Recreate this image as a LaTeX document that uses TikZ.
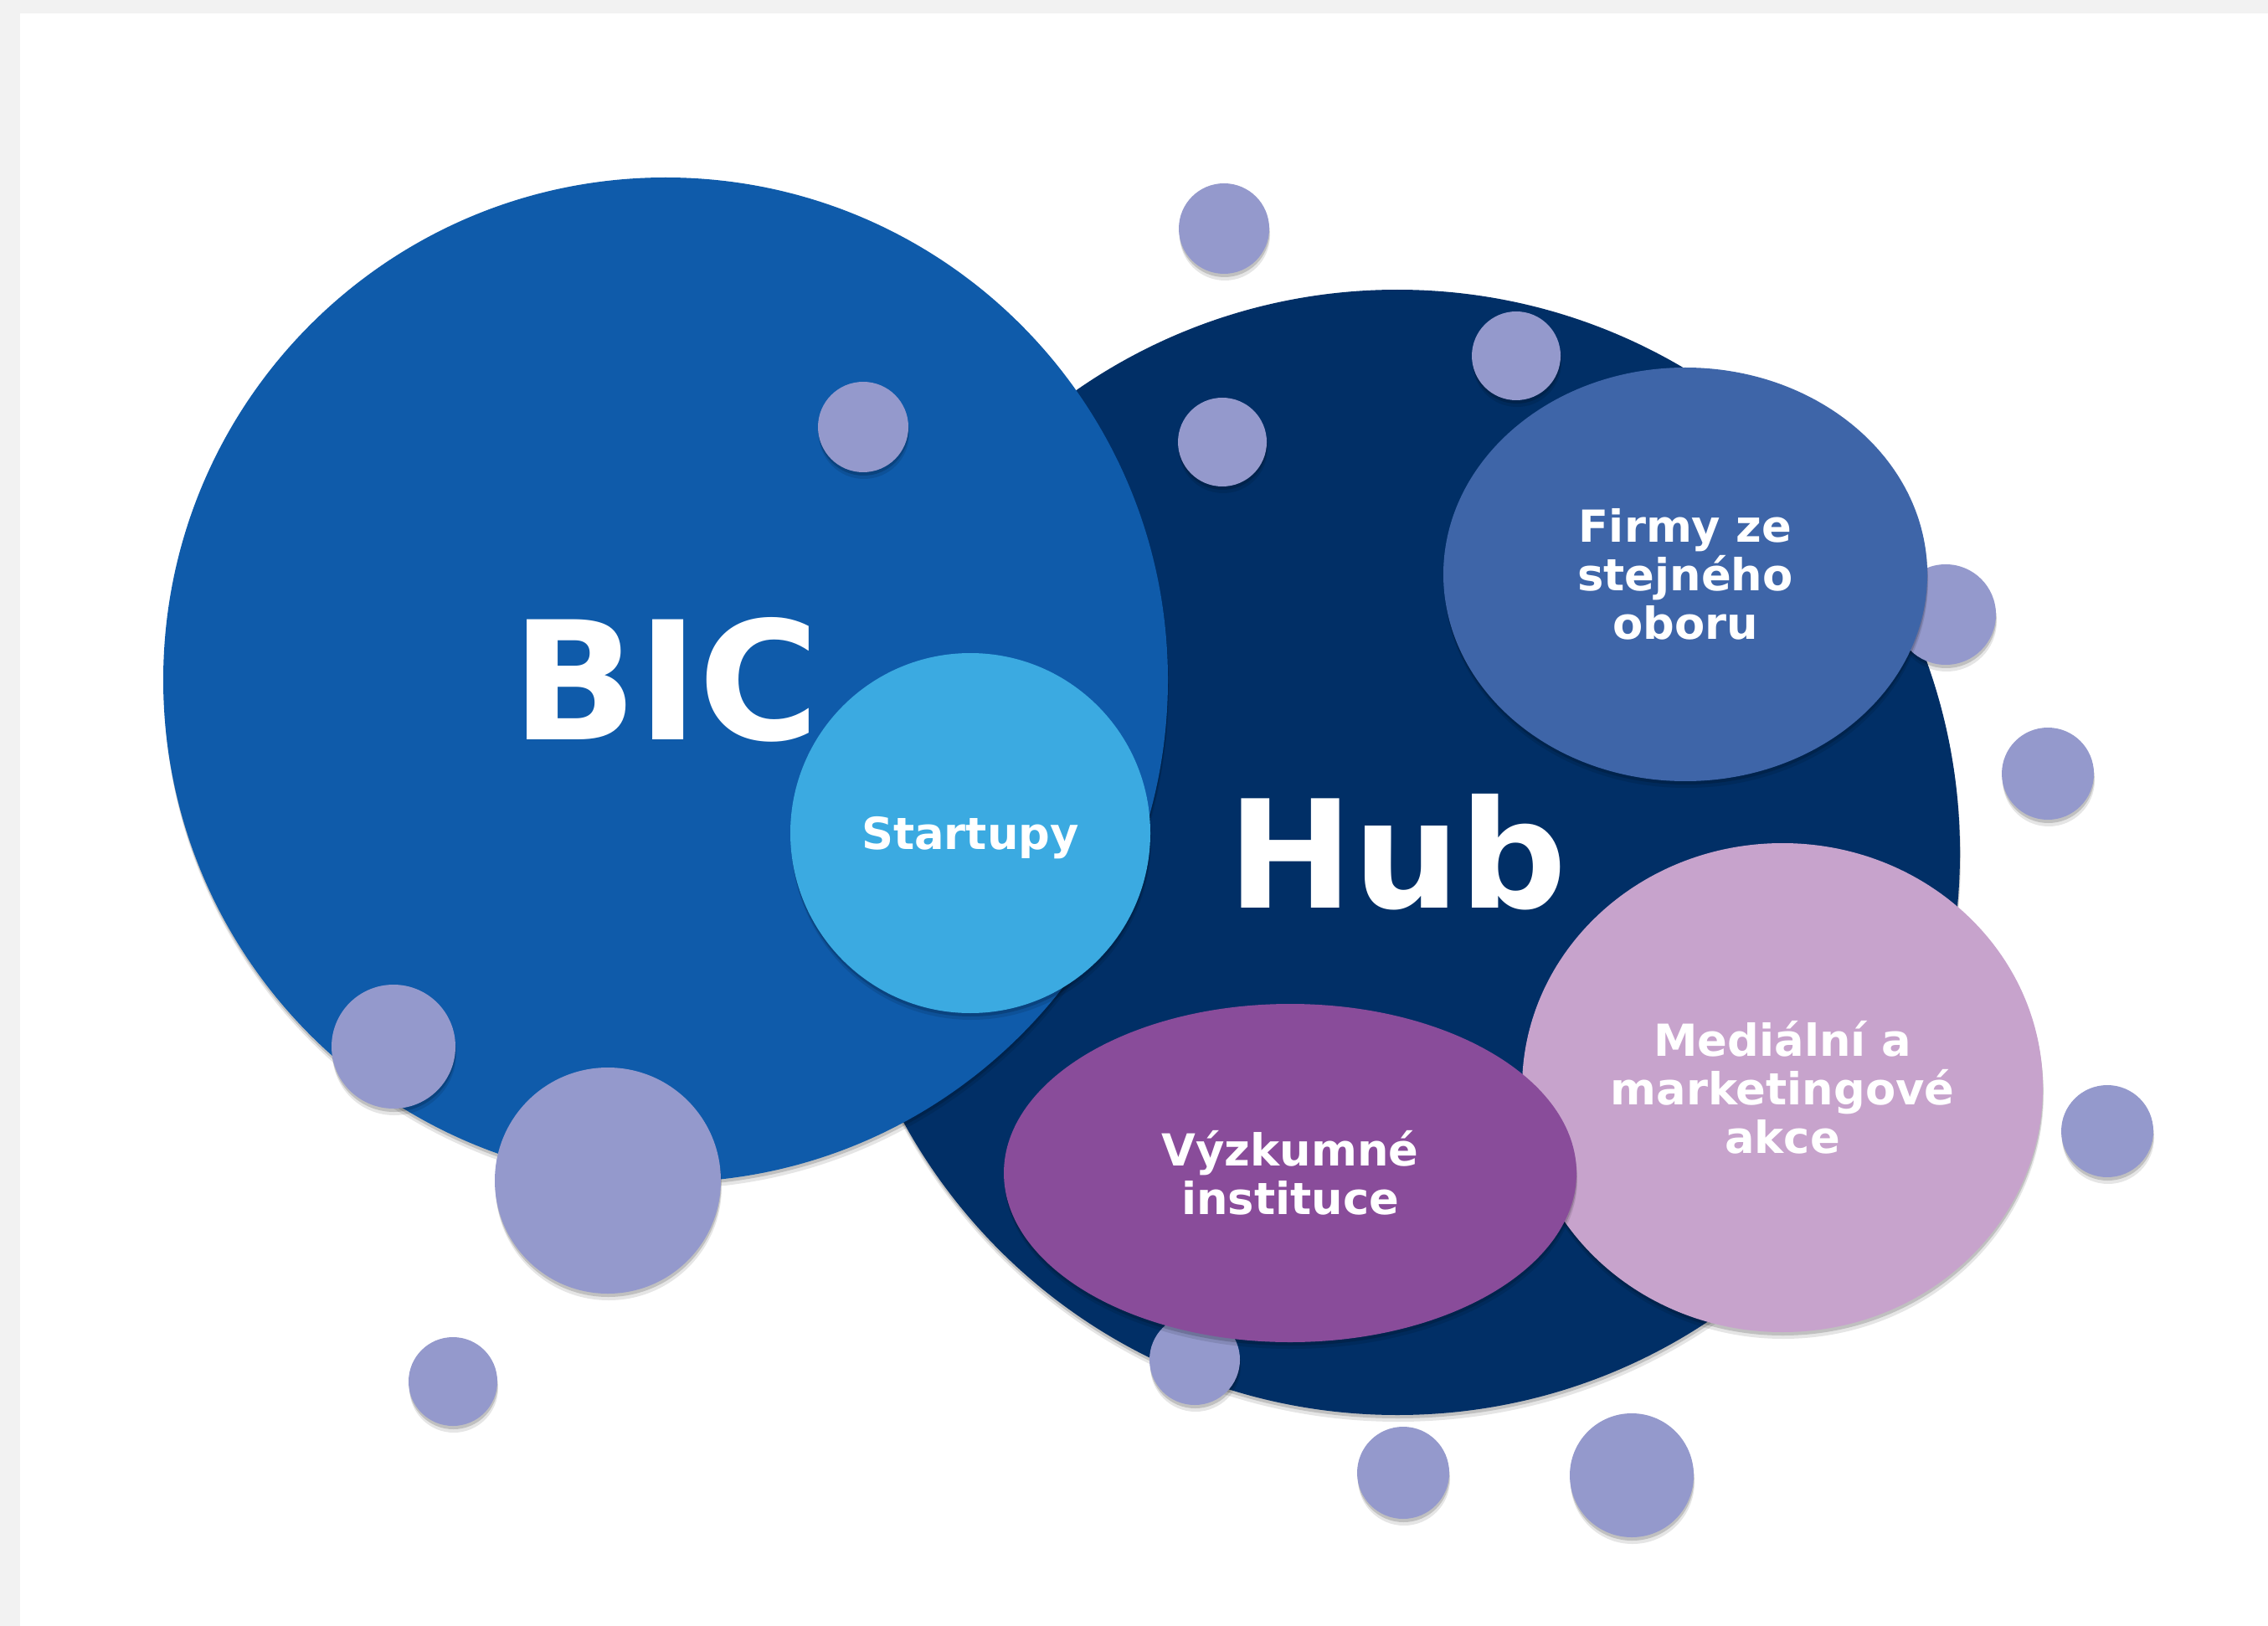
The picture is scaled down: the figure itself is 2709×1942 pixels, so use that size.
\documentclass[tikz,border=0pt]{standalone}
\usepackage{fontspec}
\setmainfont{DejaVu Sans}
\usetikzlibrary{shapes.geometric,shadows}

\definecolor{bicblue}{HTML}{0F5BAA}
\definecolor{hubnavy}{HTML}{012F66}
\definecolor{startblue}{HTML}{3BAAE1}
\definecolor{firmblue}{HTML}{3E65A8}
\definecolor{medialilac}{HTML}{C7A3CC}
\definecolor{vyzkpurple}{HTML}{894C9A}
\definecolor{bubblegray}{HTML}{9499CC}
\definecolor{framegray}{HTML}{F2F2F2}

\tikzset{
  soft shadow/.style={drop shadow={shadow xshift=0.1mm,shadow yshift=-0.8mm,opacity=0.1,fill=black},
                      drop shadow={shadow xshift=0.05mm,shadow yshift=-0.4mm,opacity=0.16,fill=black}},
  blob/.style={circle,inner sep=0pt,soft shadow,text=white},
  oval/.style={ellipse,inner sep=0pt,soft shadow,text=white,align=center,
               font=\fontsize{15}{16.5}\selectfont\bfseries},
  bubble/.style={circle,inner sep=0pt,fill=bubblegray,soft shadow}
}

\begin{document}
\begin{tikzpicture}[x=0.1mm,y=-0.1mm]
    % frame
    \fill[framegray] (0,0) rectangle (2709,1942);
    \fill[white] (24,16) rectangle (2709,1942);
    \useasboundingbox (0,0) rectangle (2709,1942);

    \node[blob,fill=hubnavy,minimum size=134.4mm,font=\fontsize{51}{51}\selectfont\bfseries] (hub) at (1669,1018) {Hub};
    \node[blob,fill=bicblue,minimum size=120mm,font=\fontsize{56}{56}\selectfont\bfseries]   (bic) at (795,812)   {BIC};

    % small bubbles
    \node[bubble,minimum size=10.8mm] (b_1)  at (1462,273)  {};
    \node[bubble,minimum size=10.6mm] (b_2)  at (1811,425)  {};
    \node[bubble,minimum size=10.6mm] (b_3)  at (1460,528)  {};
    \node[bubble,minimum size=10.8mm] (b_4)  at (1031,510)  {};
    \node[bubble,minimum size=12mm]   (b_5)  at (2324,734)  {};
    \node[bubble,minimum size=11mm]   (b_6)  at (2446,924)  {};
    \node[bubble,minimum size=11mm]   (b_7)  at (2517,1351) {};
    \node[bubble,minimum size=14.8mm] (b_8)  at (470,1250)  {};
    \node[bubble,minimum size=27mm]   (b_9)  at (726,1410)  {};
    \node[bubble,minimum size=10.6mm] (b_10) at (541,1650)  {};
    \node[bubble,minimum size=10.8mm] (b_11) at (1427,1624) {};
    \node[bubble,minimum size=11mm]   (b_12) at (1676,1759) {};
    \node[bubble,minimum size=14.8mm] (b_13) at (1949,1762) {};

    \node[blob,fill=startblue,minimum size=43mm,text depth=0pt,
          font=\fontsize{15}{16.5}\selectfont\bfseries]                 (start) at (1159,995)  {Startupy};
    \node[oval,fill=firmblue,minimum width=57.8mm,minimum height=49.4mm]   (firmy) at (2013,686)  {Firmy ze\\stejného\\oboru};
    \node[oval,fill=medialilac,minimum width=62.2mm,minimum height=58.4mm] (media) at (2129,1299) {Mediální a\\marketingové\\akce};
    \node[oval,fill=vyzkpurple,minimum width=68.4mm,minimum height=40.4mm] (vyzk)  at (1541,1401) {Výzkumné\\instituce};
\end{tikzpicture}
\end{document}
